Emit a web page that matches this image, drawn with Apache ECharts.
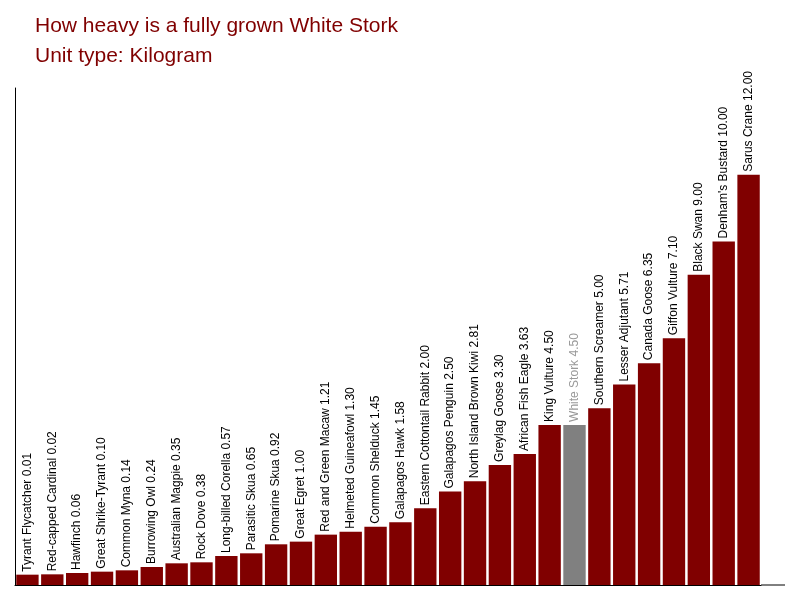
<!DOCTYPE html>
<html><head><meta charset="utf-8">
<script src="https://cdn.jsdelivr.net/npm/echarts@6/dist/echarts.min.js"></script>
<style>html,body{margin:0;padding:0;background:#fff}#c{width:800px;height:600px}</style>
</head><body><div id="c"></div>
<script>
const categories = ["Tyrant Flycatcher","Red-capped Cardinal","Hawfinch","Great Shrike-Tyrant","Common Myna","Burrowing Owl","Australian Magpie","Rock Dove","Long-billed Corella","Parasitic Skua","Pomarine Skua","Great Egret","Red and Green Macaw","Helmeted Guineafowl","Common Shelduck","Galapagos Hawk","Eastern Cottontail Rabbit","Galapagos Penguin","North Island Brown Kiwi","Greylag Goose","African Fish Eagle","King Vulture","White Stork","Southern Screamer","Lesser Adjutant","Canada Goose","Giffon Vulture","Black Swan","Denham's Bustard","Sarus Crane"];
const weights = [0.01,0.02,0.06,0.10,0.14,0.24,0.35,0.38,0.57,0.65,0.92,1.00,1.21,1.30,1.45,1.58,2.00,2.50,2.81,3.30,3.63,4.50,4.50,5.00,5.71,6.35,7.10,9.00,10.00,12.00];
const highlight = "White Stork";
const stub = 0.3;
const col = c => c===highlight?"#808080":"#800000";
const chart = echarts.init(document.getElementById('c'));
chart.setOption({
  animation:false,
  title:{text:"How heavy is a fully grown White Stork\nUnit type: Kilogram",left:30,top:6,
    textStyle:{color:"#800000",fontSize:21,fontWeight:"normal",fontFamily:"Liberation Sans",lineHeight:30}},
  grid:{left:15,right:39,top:88,bottom:15},
  graphic:[{type:"line",shape:{x1:761,y1:585,x2:785,y2:585},style:{stroke:"#000",lineWidth:1}}],
  xAxis:{type:"category",data:categories,axisLine:{lineStyle:{color:"#000"}},axisTick:{show:false},axisLabel:{show:false}},
  yAxis:{type:"value",min:0,max:14.9,axisLine:{show:true,lineStyle:{color:"#000"}},axisTick:{show:false},axisLabel:{show:false},splitLine:{show:false}},
  series:[
   {type:"bar",stack:"s",barCategoryGap:"10%",silent:true,
    data:categories.map(c=>({value:stub,itemStyle:{color:col(c)}}))},
   {type:"bar",stack:"s",barCategoryGap:"10%",
    data:categories.map((c,i)=>({value:weights[i],
      itemStyle:{color:col(c)},
      label:{color:c===highlight?"#999":"#000"}})),
    label:{show:true,position:"top",rotate:90,align:"left",verticalAlign:"middle",distance:3,
      fontFamily:"Liberation Sans",fontSize:12,
      formatter:p=>p.name+" "+p.value.toFixed(2)}}]
});
</script></body></html>
